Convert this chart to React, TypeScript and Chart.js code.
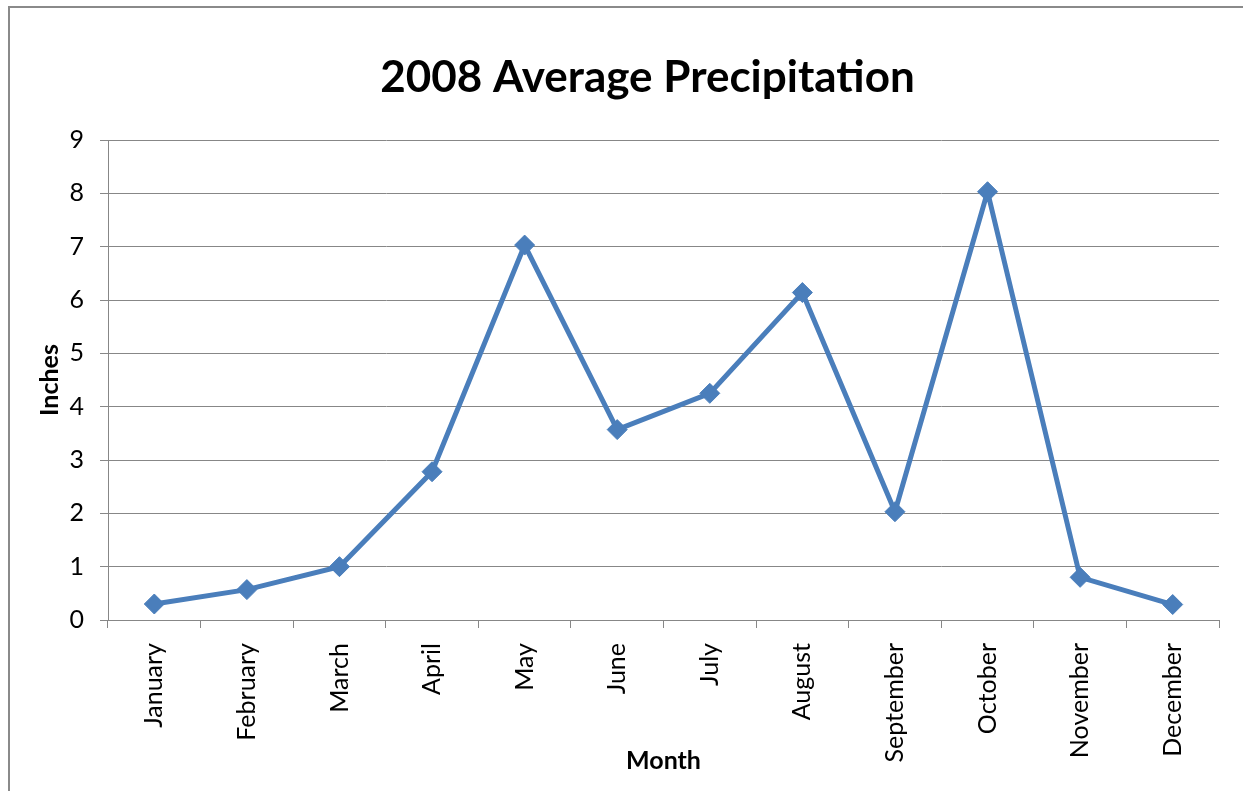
import React, { useEffect, useRef } from "react";
import { Chart, registerables } from "chart.js";

Chart.register(...registerables);

const months = ["January", "February", "March", "April", "May", "June", "July", "August", "September", "October", "November", "December"];
const precipitation = [0.3, 0.57, 1.0, 2.78, 7.03, 3.57, 4.25, 6.14, 2.03, 8.03, 0.8, 0.29];
const chartTitle = "2008 Average Precipitation";
const yTitle = "Inches";
const xTitle = "Month";

const FONT = "Lato, 'Open Sans', sans-serif";
const GRID = "#878787";

const titlePlugin = {
  id: "excelTitle",
  afterDraw(chart: any) {
    const { ctx, chartArea } = chart;
    ctx.save();
    ctx.font = `bold 44px ${FONT}`;
    ctx.fillStyle = "#000";
    ctx.textAlign = "center";
    ctx.textBaseline = "alphabetic";
    ctx.fillText(chartTitle, (chartArea.left + chartArea.right) / 2 - 16, 92);
    ctx.restore();
  },
};

export default function App() {
  const ref = useRef<HTMLCanvasElement | null>(null);
  useEffect(() => {
    const canvas = ref.current;
    if (!canvas) return;
    const chart = new Chart(canvas, {
      type: "line",
      data: {
        labels: months,
        datasets: [
          {
            data: precipitation,
            borderColor: "#4A7EBB",
            backgroundColor: "#4A7EBB",
            borderWidth: 5,
            pointStyle: "rectRot",
            pointRadius: 10,
            pointBorderWidth: 1,
            pointBackgroundColor: "#4A7EBB",
            pointBorderColor: "#4A7EBB",
            tension: 0,
          },
        ],
      },
      options: {
        responsive: false,
        animation: false,
        devicePixelRatio: 1,
        layout: { padding: { left: 30, right: 24, top: 140, bottom: 15 } },
        plugins: { legend: { display: false }, title: { display: false }, tooltip: { enabled: false } },
        scales: {
          x: {
            offset: true,
            grid: { offset: true, drawOnChartArea: false, drawTicks: true, tickLength: 8, color: GRID },
            border: { display: true, color: GRID, width: 1 },
            ticks: {
              font: { family: FONT, size: 25 },
              color: "#000",
              minRotation: 90,
              maxRotation: 90,
              autoSkip: false,
              padding: 15,
            },
            title: { display: true, text: xTitle, font: { family: FONT, size: 25, weight: "bold" }, color: "#000", padding: { top: 0, bottom: 0 } },
            afterFit(scale: any) {
              scale.height = 156;
            },
          },
          y: {
            min: 0,
            max: 9,
            grid: { color: GRID, tickLength: 8, drawTicks: true },
            border: { display: true, color: GRID, width: 1 },
            ticks: { stepSize: 1, font: { family: FONT, size: 25 }, color: "#000", padding: 16 },
            title: { display: true, text: yTitle, font: { family: FONT, size: 25, weight: "bold" }, color: "#000", padding: { top: 5, bottom: 0 } },
            afterFit(scale: any) {
              scale.width = 78;
            },
          },
        },
      },
      plugins: [titlePlugin],
    });
    return () => chart.destroy();
  }, []);

  return (
    <div style={{ position: "fixed", left: 0, top: 0, width: 1243, height: 791, overflow: "hidden", background: "#fff" }}>
      <div
        style={{
          position: "absolute",
          left: 8,
          top: 6,
          width: 1300,
          height: 900,
          borderLeft: "2px solid #8a8a8a",
          borderTop: "2px solid #8a8a8a",
          boxSizing: "border-box",
        }}
      />
      <canvas ref={ref} width={1243} height={791} style={{ position: "absolute", left: 0, top: 0, width: 1243, height: 791 }} />
    </div>
  );
}
